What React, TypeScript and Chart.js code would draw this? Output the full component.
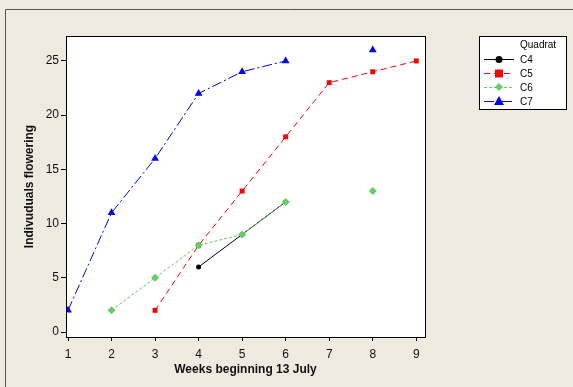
import React, { useEffect, useRef } from "react";
import { Chart, registerables } from "chart.js";

Chart.register(...registerables);

const weeks = [1, 2, 3, 4, 5, 6, 7, 8, 9];
const c4 = [null, null, null, 6, 9, 12, null, null, null];
const c5 = [null, null, 2, 8, 13, 18, 23, 24, 25];
const c6 = [null, 2, 5, 8, 9, 12, null, 13, null];
const c7 = [2, 11, 16, 22, 24, 25, null, 26, null];
const seriesNames = ["C4", "C5", "C6", "C7"];
const xTicks = [1, 2, 3, 4, 5, 6, 7, 8, 9];
const yTicks = [0, 5, 10, 15, 20, 25];

const toPts = (arr: (number | null)[]) => weeks.map((w, i) => ({ x: w, y: arr[i] }));

const BG = "#EEEAE0";
const FONT = "'Liberation Sans', 'DejaVu Sans', sans-serif";

const framePlugin = {
  id: "frame",
  beforeDraw(chart: any) {
    const { ctx, width, height } = chart;
    ctx.save();
    ctx.fillStyle = BG;
    ctx.fillRect(0, 0, width, height);
    ctx.strokeStyle = "#555";
    ctx.lineWidth = 1;
    ctx.beginPath();
    ctx.moveTo(5.5, height);
    ctx.lineTo(5.5, 9.5);
    ctx.lineTo(width, 9.5);
    ctx.stroke();
    const a = chart.chartArea;
    ctx.fillStyle = "#fff";
    ctx.fillRect(a.left, a.top, a.right - a.left, a.bottom - a.top);
    ctx.restore();
  },
  afterDraw(chart: any) {
    const { ctx } = chart;
    const a = chart.chartArea;
    ctx.save();
    ctx.strokeStyle = "#000";
    ctx.lineWidth = 1;
    ctx.strokeRect(Math.round(a.left) + 0.5, Math.round(a.top) + 0.5, Math.round(a.right - a.left), Math.round(a.bottom - a.top));
    // legend
    const lx = 479, ly = 36, lw = 87, lh = 73;
    ctx.fillStyle = "#fff";
    ctx.fillRect(lx, ly, lw, lh);
    ctx.strokeStyle = "#000";
    ctx.strokeRect(lx + 0.5, ly + 0.5, lw, lh);
    ctx.fillStyle = "#000";
    ctx.font = `10px ${FONT}`;
    ctx.textBaseline = "middle";
    ctx.textAlign = "left";
    ctx.fillText("Quadrat", 520, 45);
    chart.data.datasets.forEach((ds: any, i: number) => {
      const y = 59 + i * 14;
      ctx.save();
      ctx.strokeStyle = ds.borderColor;
      ctx.lineWidth = 1;
      ctx.setLineDash(ds.borderDash || []);
      ctx.beginPath();
      ctx.moveTo(484, y + 0.5);
      ctx.lineTo(514, y + 0.5);
      ctx.stroke();
      ctx.restore();
      ctx.save();
      ctx.fillStyle = ds.pointBackgroundColor;
      const cx = 499;
      const r = 4;
      ctx.beginPath();
      if (ds.pointStyle === "circle") {
        ctx.arc(cx, y + 0.5, 3.5, 0, Math.PI * 2);
      } else if (ds.pointStyle === "rect") {
        ctx.rect(cx - r, y - r + 0.5, 2 * r, 2 * r);
      } else if (ds.pointStyle === "rectRot") {
        ctx.moveTo(cx, y - r);
        ctx.lineTo(cx + r, y);
        ctx.lineTo(cx, y + r);
        ctx.lineTo(cx - r, y);
      } else {
        ctx.moveTo(cx, y - r - 1);
        ctx.lineTo(cx + r + 1, y + r);
        ctx.lineTo(cx - r - 1, y + r);
      }
      ctx.closePath();
      ctx.fill();
      ctx.restore();
      ctx.fillStyle = "#000";
      ctx.fillText(ds.label, 520, y + 1);
    });
    ctx.restore();
  },
};

export default function App() {
  const ref = useRef<HTMLCanvasElement>(null);
  useEffect(() => {
    document.body.style.margin = "0";
    const mk = (label: string, data: (number | null)[], color: string, style: string, dash: number[], radius: number, order: number) => ({
      label,
      data: toPts(data),
      borderColor: color,
      backgroundColor: color,
      pointBackgroundColor: color,
      pointBorderColor: color,
      pointStyle: style,
      pointRadius: radius,
      pointBorderWidth: 0,
      borderWidth: 1,
      borderDash: dash,
      spanGaps: false,
      tension: 0,
      order,
    });
    const chart = new Chart(ref.current!, {
      type: "line",
      data: {
        datasets: [
          mk(seriesNames[0], c4, "#000000", "circle", [], 2.5, 3),
          mk(seriesNames[1], c5, "#FF0000", "rect", [6, 4], 3.5, 2),
          mk(seriesNames[2], c6, "#66CC66", "rectRot", [3, 2], 4, 1),
          mk(seriesNames[3], c7, "#0000FF", "triangle", [10, 3, 2, 3], 4.5, 0),
        ] as any,
      },
      options: {
        animation: false,
        responsive: false,
        layout: { padding: { left: 18, top: 36, right: 148, bottom: 6 } },
        plugins: { legend: { display: false }, tooltip: { enabled: false } },
        scales: {
          x: {
            type: "linear",
            min: 0.954,
            max: 9.2,
            afterFit: (s: any) => { s.height = 44; },
            afterBuildTicks: (s: any) => { s.ticks = xTicks.map((v) => ({ value: v })); },
            grid: { drawOnChartArea: false, drawTicks: true, tickLength: 4, color: "#000" },
            border: { display: false },
            ticks: { color: "#111", font: { family: FONT, size: 12 }, padding: 6, callback: (v: any) => String(v) },
            title: { display: true, text: "Weeks beginning 13 July", color: "#111", font: { family: FONT, size: 12, weight: "bold" }, padding: { top: 4, bottom: 4 } },
          },
          y: {
            type: "linear",
            min: -0.46,
            max: 27.3,
            afterFit: (s: any) => { s.width = 48; },
            afterBuildTicks: (s: any) => { s.ticks = yTicks.map((v) => ({ value: v })); },
            grid: { drawOnChartArea: false, drawTicks: true, tickLength: 5, color: "#000" },
            border: { display: false },
            ticks: { color: "#111", font: { family: FONT, size: 12 }, padding: 2, callback: (v: any) => String(v) },
            title: { display: true, text: "Indivuduals flowering", color: "#111", font: { family: FONT, size: 12, weight: "bold" }, padding: { top: 4, bottom: 4 } },
          },
        },
      } as any,
      plugins: [framePlugin],
    });
    return () => chart.destroy();
  }, []);
  return <canvas ref={ref} width={573} height={387} style={{ display: "block" }} />;
}
